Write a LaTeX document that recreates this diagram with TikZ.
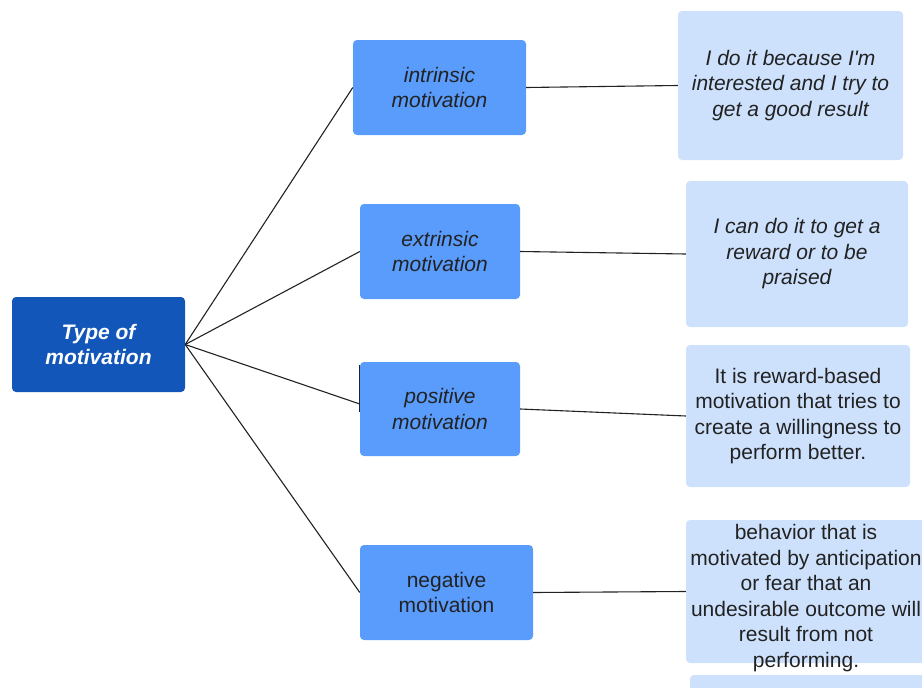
\documentclass[tikz,border=0pt]{standalone}
\usepackage{fontspec}
\setmainfont{Liberation Sans}
\definecolor{rootblue}{HTML}{1256B9}
\definecolor{midblue}{HTML}{5A9CFC}
\definecolor{paleblue}{HTML}{CDE1FC}
\definecolor{ink}{HTML}{222222}
\begin{document}
\begin{tikzpicture}[x=1pt,y=-1pt,
  base/.style={rounded corners=4pt, inner sep=0pt, align=center, font=\fontsize{21}{25.5}\selectfont},
  rootbox/.style={base, fill=rootblue, text=white, font=\fontsize{21}{25.5}\selectfont\bfseries\itshape},
  midbox/.style={base, fill=midblue, text=ink},
  descbox/.style={base, fill=paleblue, text=ink},
  link/.style={draw=ink, line width=1.1pt}]
\clip (0,0) rectangle (922,688);
\useasboundingbox (0,0) rectangle (922,688);
% boxes
\node[rootbox, minimum width=173pt, minimum height=95pt] (root) at (98.5,344.5) {Type of\\motivation};
\node[midbox, minimum width=173pt, minimum height=95pt] (intr) at (439.5,87.5) {\itshape intrinsic\\\itshape motivation};
\node[midbox, minimum width=160pt, minimum height=95pt] (extr) at (440,251.5) {\itshape extrinsic\\\itshape motivation};
\node[midbox, minimum width=160pt, minimum height=94pt] (pos) at (440,409) {\itshape positive\\\itshape motivation};
\node[midbox, minimum width=173pt, minimum height=95pt] (neg) at (446.5,592.5) {negative\\motivation};
\node[descbox, minimum width=225pt, minimum height=149pt] (d1) at (790.5,85.5) {\itshape I do it because I\textquotesingle m\\\itshape interested and I try to\\\itshape get a good result};
\node[descbox, minimum width=222pt, minimum height=146pt] (d2) at (797,254) {\itshape I can do it to get a\\\itshape reward or to be\\\itshape praised};
\node[descbox, minimum width=224pt, minimum height=142pt] (d3) at (798,416) {It is reward-based\\motivation that tries to\\create a willingness to\\perform better.};
\node[descbox, minimum width=240pt, minimum height=143pt] (d4) at (806,591.5) {};
\node[descbox, minimum width=236pt, minimum height=30pt] (d5) at (808,690) {};
\node[base, text=ink] (d4text) at (806,598) {behavior that is\\motivated by anticipation\\or fear that an\\undesirable outcome will\\result from not\\performing.};
% connectors
\draw[link] (root.east) -- ([yshift=5pt]pos.west);
\draw[link] ([yshift=-3pt]pos.north west) -- ([yshift=-3pt]pos.west);
\draw[link] (root.east) -- (intr.west);
\draw[link] (root.east) -- (extr.west);
\draw[link] (root.east) -- (neg.west);
\draw[link] (intr.east) -- (d1.west);
\draw[link] (extr.east) -- (d2.west);
\draw[link] (pos.east) -- (d3.west);
\draw[link] (neg.east) -- (d4.west);
\end{tikzpicture}
\end{document}
